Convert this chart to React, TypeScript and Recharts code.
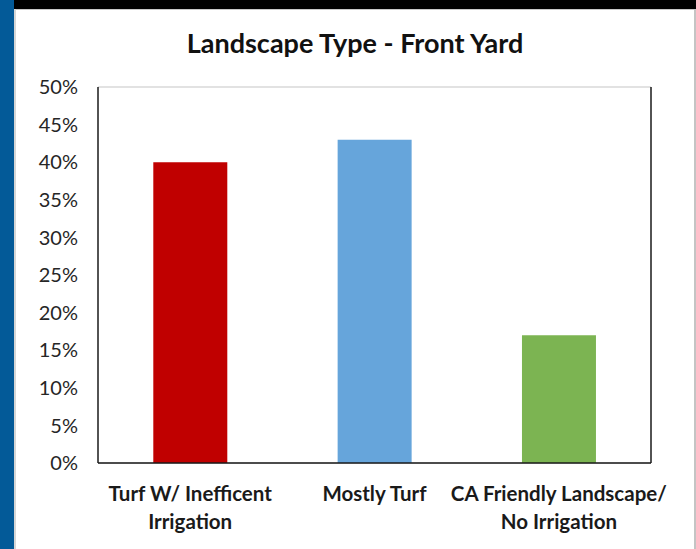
import { BarChart, Bar, XAxis, YAxis, CartesianGrid, Cell } from "recharts";

const categories = [
  "Turf W/ Inefficent Irrigation",
  "Mostly Turf",
  "CA Friendly Landscape/ No Irrigation",
];
const labelLines = [
  ["Turf W/ Inefficent", "Irrigation"],
  ["Mostly Turf"],
  ["CA Friendly Landscape/", "No Irrigation"],
];
const shares = [0.4, 0.43, 0.17];
const barColors = ["#C00000", "#66A5DB", "#7CB452"];
const yTicks = [0, 0.05, 0.1, 0.15, 0.2, 0.25, 0.3, 0.35, 0.4, 0.45, 0.5];

const data = categories.map((name, i) => ({ name, share: shares[i] }));

const FONT = "Lato, 'Noto Sans', sans-serif";

function CategoryTick(props: any) {
  const { x, y, index } = props;
  const lines = labelLines[index] || [];
  return (
    <text
      x={x}
      y={y + 36}
      textAnchor="middle"
      fontFamily={FONT}
      fontWeight={700}
      fontSize={20.5}
      fill="#1a1a1a"
    >
      {lines.map((line, i) => (
        <tspan key={i} x={x} dy={i === 0 ? 0 : 28}>
          {line}
        </tspan>
      ))}
    </text>
  );
}

export default function App() {
  return (
    <div style={{ position: "relative", width: 696, height: 549, background: "#fff", overflow: "hidden" }}>
      <style>{"body{margin:0}"}</style>
      <div style={{ position: "absolute", left: 0, top: 0, width: 696, height: 9, background: "#000" }} />
      <div style={{ position: "absolute", left: 0, top: 9, width: 696, height: 1, background: "#c8c8c8" }} />
      <div style={{ position: "absolute", left: 0, top: 0, width: 14, height: 549, background: "#035A98" }} />
      <div style={{ position: "absolute", left: 14, top: 9, width: 2, height: 540, background: "#d6d6d6" }} />
      <div style={{ position: "absolute", left: 694, top: 9, width: 2, height: 540, background: "#c4c4c4" }} />
      <div
        style={{
          position: "absolute",
          left: 0,
          width: 710,
          top: 27,
          textAlign: "center",
          fontFamily: FONT,
          fontWeight: 700,
          fontSize: 27,
          lineHeight: "32px",
          color: "#111",
        }}
      >
        Landscape Type - Front Yard
      </div>
      <div style={{ position: "absolute", left: 0, top: 0 }}>
        <BarChart
          width={696}
          height={549}
          data={data}
          margin={{ top: 87, right: 44, bottom: 0, left: 0 }}
          barCategoryGap="30%"
        >
          <CartesianGrid vertical={false} stroke="#D9D9D9" strokeWidth={1.5} />
          <XAxis
            dataKey="name"
            xAxisId="main"
            interval={0}
            tickLine={false}
            tickSize={0}
            axisLine={{ stroke: "#1a1a1a", strokeWidth: 1.5 }}
            tick={<CategoryTick />}
            height={86}
          />
          <XAxis xAxisId="top" orientation="top" dataKey="name" height={0} tick={false} tickLine={false} axisLine={{ stroke: "#1a1a1a", strokeWidth: 1.5 }} />
          <YAxis
            yAxisId="main"
            domain={[0, 0.5]}
            ticks={yTicks}
            width={98}
            tickLine={false}
            tickSize={0}
            tickMargin={20}
            axisLine={{ stroke: "#1a1a1a", strokeWidth: 1.5 }}
            tickFormatter={(v: number) => `${Math.round(v * 100)}%`}
            tick={{ fontFamily: FONT, fontSize: 20, fill: "#262626" }}
          />
          <YAxis yAxisId="right" orientation="right" domain={[0, 0.5]} width={1} tick={false} tickLine={false} axisLine={{ stroke: "#1a1a1a", strokeWidth: 1.5 }} />
          <Bar dataKey="share" xAxisId="main" yAxisId="main" isAnimationActive={false}>
            {data.map((d, i) => (
              <Cell key={d.name} fill={barColors[i]} />
            ))}
          </Bar>
        </BarChart>
      </div>
    </div>
  );
}
